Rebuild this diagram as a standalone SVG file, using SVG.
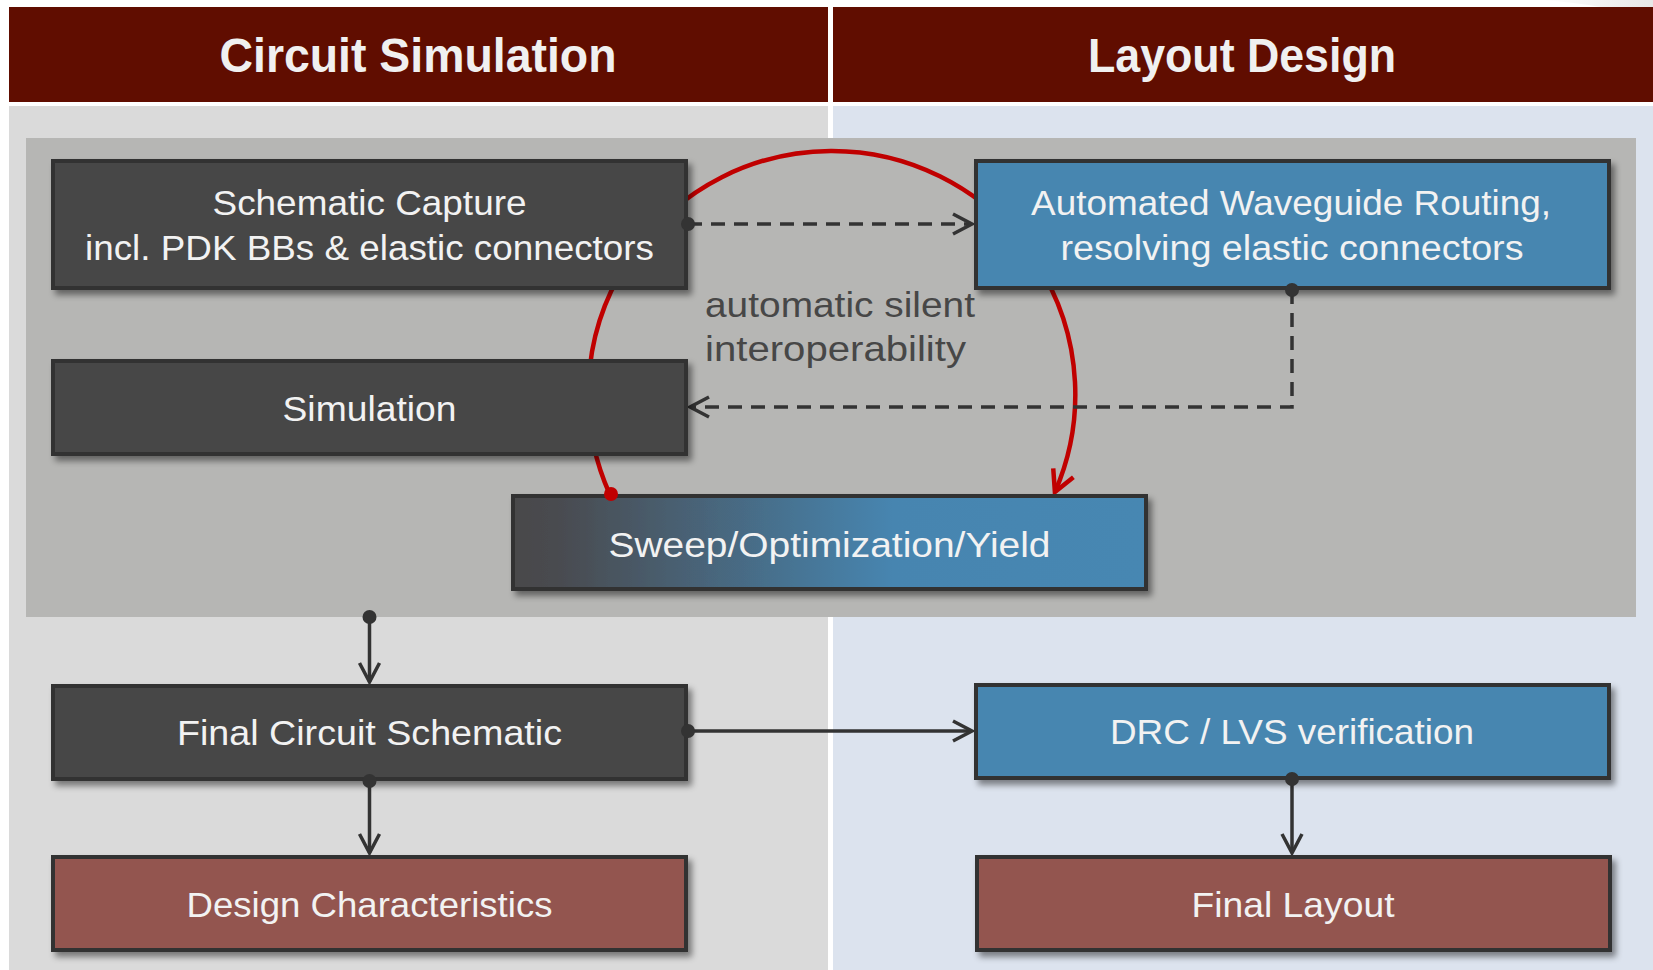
<svg xmlns="http://www.w3.org/2000/svg" width="1653" height="970" viewBox="0 0 1653 970">
<defs>
<style>
.hdr{fill:#600d00}
.hdrtxt{font-family:"Liberation Sans",Arial,sans-serif;font-size:48px;font-weight:bold;fill:#f0f0f0;text-anchor:middle}
.box{stroke:#333;stroke-width:4;filter:url(#sh)}
.dark{fill:#474747}
.blue{fill:#4686b0}
.brown{fill:#93554f}
.t{font-family:"Liberation Sans",Arial,sans-serif;font-size:35px;fill:#f2f2f2;text-anchor:middle}
.note{font-family:"Liberation Sans",Arial,sans-serif;font-size:35px;fill:#474747}
.con{fill:none;stroke:#333;stroke-width:3.5}
.dash{stroke-dasharray:14 9}
.dot{fill:#333}
</style>
<filter id="sh" x="-5%" y="-10%" width="115%" height="130%">
<feDropShadow dx="4" dy="5" stdDeviation="3" flood-color="#000" flood-opacity="0.45"/>
</filter>
<linearGradient id="sweepg" x1="0" y1="0" x2="1" y2="0">
<stop offset="0" stop-color="#48484a"/>
<stop offset="0.08" stop-color="#494c51"/>
<stop offset="0.6" stop-color="#4685b0"/>
<stop offset="1" stop-color="#4687b2"/>
</linearGradient>
<linearGradient id="swoosh" x1="0" y1="0" x2="1" y2="0">
<stop offset="0" stop-color="#ffffff"/>
<stop offset="1" stop-color="#d8d8d8"/>
</linearGradient>
<marker id="arr" markerUnits="userSpaceOnUse" viewBox="-24 -14 28 28" refX="0" refY="0" markerWidth="28" markerHeight="28" orient="auto" overflow="visible">
<path d="M -19 -10 L 0 0 L -19 10" fill="none" stroke="#333" stroke-width="3.5"/>
</marker>
<marker id="rarr" markerUnits="userSpaceOnUse" viewBox="-26 -16 30 32" refX="0" refY="0" markerWidth="30" markerHeight="32" orient="auto" overflow="visible">
<path d="M -21 -11 L 0 0 L -21 11" fill="none" stroke="#c00000" stroke-width="4.5"/>
</marker>
</defs>

<rect x="0" y="0" width="1653" height="970" fill="#ffffff"/>
<path d="M 1540 0 Q 1610 4 1653 22 L 1653 0 Z" fill="url(#swoosh)" opacity="0.6"/>

<!-- columns -->
<rect x="9" y="106" width="819" height="864" fill="#dadada"/>
<rect x="833" y="106" width="820" height="864" fill="#dce3ee"/>
<rect class="hdr" x="9" y="7" width="819" height="95"/>
<rect class="hdr" x="833" y="7" width="820" height="95"/>
<text class="hdrtxt" x="418" y="72" textLength="397" lengthAdjust="spacingAndGlyphs">Circuit Simulation</text>
<text class="hdrtxt" x="1242" y="72" textLength="308" lengthAdjust="spacingAndGlyphs">Layout Design</text>

<!-- gray region -->
<rect x="26" y="138" width="1610" height="479" fill="#b6b6b4"/>

<!-- connectors -->
<g id="connectors">
<path d="M 609.6 494 A 243.5 243.5 0 1 1 1054.9 492" fill="none" stroke="#c00000" stroke-width="4.5" marker-end="url(#rarr)"/>
<path class="con dash" d="M 688 224 H 972" marker-end="url(#arr)"/>
<path class="con dash" d="M 1292 290 V 407 H 690" marker-end="url(#arr)"/>
<path class="con" d="M 369.5 617 V 682" marker-end="url(#arr)"/>
<path class="con" d="M 688 731 H 972" marker-end="url(#arr)"/>
<path class="con" d="M 369.5 781 V 853" marker-end="url(#arr)"/>
<path class="con" d="M 1292 779 V 853" marker-end="url(#arr)"/>
</g>

<g id="node-schematic">
<rect class="box dark" x="53" y="161" width="633" height="127"/>
<text class="t" x="369.5" y="215" textLength="314" lengthAdjust="spacingAndGlyphs">Schematic Capture</text>
<text class="t" x="369.5" y="260" textLength="569" lengthAdjust="spacingAndGlyphs">incl. PDK BBs &amp; elastic connectors</text>
</g>
<g id="node-simulation">
<rect class="box dark" x="53" y="361" width="633" height="93"/>
<text class="t" x="369.5" y="421" textLength="174" lengthAdjust="spacingAndGlyphs">Simulation</text>
</g>
<g id="node-routing">
<rect class="box blue" x="976" y="161" width="633" height="127"/>
<text class="t" x="1291" y="215" textLength="520" lengthAdjust="spacingAndGlyphs">Automated Waveguide Routing,</text>
<text class="t" x="1292" y="260" textLength="463" lengthAdjust="spacingAndGlyphs">resolving elastic connectors</text>
</g>
<g id="node-sweep">
<rect class="box" fill="url(#sweepg)" x="513" y="496" width="633" height="93"/>
<text class="t" x="829.5" y="557" textLength="442" lengthAdjust="spacingAndGlyphs">Sweep/Optimization/Yield</text>
</g>
<g id="node-final-schematic">
<rect class="box dark" x="53" y="686" width="633" height="93"/>
<text class="t" x="369.5" y="745" textLength="385" lengthAdjust="spacingAndGlyphs">Final Circuit Schematic</text>
</g>
<g id="node-design-char">
<rect class="box brown" x="53" y="857" width="633" height="93"/>
<text class="t" x="369.5" y="917" textLength="366" lengthAdjust="spacingAndGlyphs">Design Characteristics</text>
</g>
<g id="node-drc">
<rect class="box blue" x="976" y="685" width="633" height="93"/>
<text class="t" x="1292" y="744" textLength="364" lengthAdjust="spacingAndGlyphs">DRC / LVS verification</text>
</g>
<g id="node-final-layout">
<rect class="box brown" x="977" y="857" width="633" height="93"/>
<text class="t" x="1293" y="917" textLength="203" lengthAdjust="spacingAndGlyphs">Final Layout</text>
</g>

<!-- connector start dots, drawn over box edges -->
<g id="connector-dots">
<circle cx="611" cy="494" r="7" fill="#c00000"/>
<circle class="dot" cx="688" cy="224" r="7"/>
<circle class="dot" cx="1292" cy="290" r="7"/>
<circle class="dot" cx="369.5" cy="617" r="7"/>
<circle class="dot" cx="688" cy="731" r="7"/>
<circle class="dot" cx="369.5" cy="781" r="7"/>
<circle class="dot" cx="1292" cy="779" r="7"/>
</g>

<g id="label-interop">
<text class="note" x="705" y="317" textLength="270" lengthAdjust="spacingAndGlyphs">automatic silent</text>
<text class="note" x="705" y="361" textLength="261" lengthAdjust="spacingAndGlyphs">interoperability</text>
</g>
</svg>
